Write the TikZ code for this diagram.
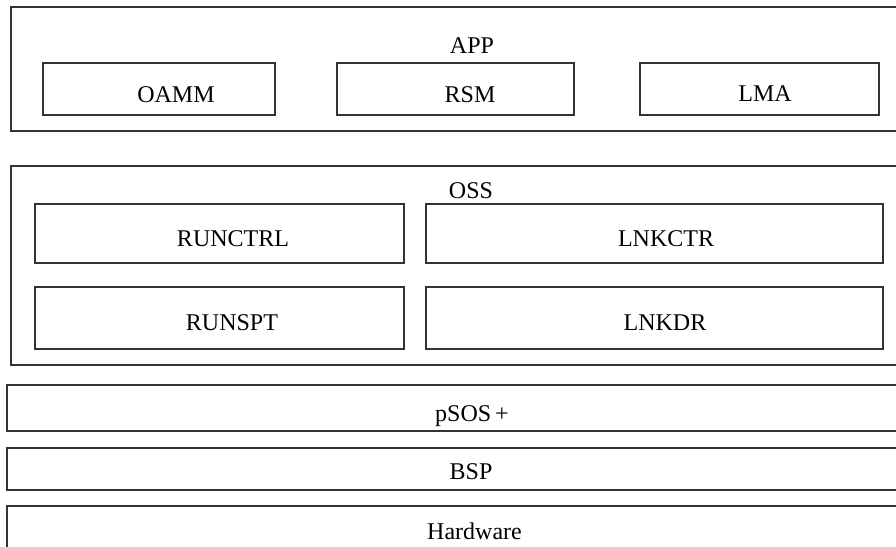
\documentclass[tikz,border=0pt]{standalone}
\usepackage{fontspec}
\setmainfont{Liberation Serif}
\begin{document}
\begin{tikzpicture}[x=1pt,y=-1pt,
  boxline/.style={draw=black!80, line width=1.2pt, inner sep=0pt, outer sep=0pt},
  lbl/.style={anchor=base, inner sep=0pt, font=\fontsize{24}{28}\selectfont}]
\useasboundingbox (0,0) rectangle (896,546);
\begin{scope}
\clip (0,0) rectangle (896,546);
% application layer
\node[boxline, minimum width=899, minimum height=124] (app) at (460.5,69) {};
\node[boxline, minimum width=232, minimum height=52] (oamm) at (159,89) {};
\node[boxline, minimum width=237, minimum height=52] (rsm) at (455.5,89) {};
\node[boxline, minimum width=239, minimum height=52] (lma) at (759.5,89) {};
% operating support layer
\node[boxline, minimum width=899, minimum height=199] (oss) at (460.5,265.5) {};
\node[boxline, minimum width=369, minimum height=59] (runctrl) at (219.5,233.5) {};
\node[boxline, minimum width=369, minimum height=62] (runspt) at (219.5,318) {};
\node[boxline, minimum width=457, minimum height=59] (lnkctr) at (654.5,233.5) {};
\node[boxline, minimum width=457, minimum height=62] (lnkdr) at (654.5,318) {};
% kernel, board support and hardware layers
\node[boxline, minimum width=903, minimum height=46] (psos) at (458.5,408) {};
\node[boxline, minimum width=903, minimum height=42] (bsp) at (458.5,469) {};
\node[boxline, minimum width=903, minimum height=64] (hw) at (458.5,538) {};
\end{scope}
% labels
\node[lbl] (tapp) at (472,53) {APP};
\node[lbl] (toamm) at (176,102) {OAMM};
\node[lbl] (trsm) at (470,102) {RSM};
\node[lbl] (tlma) at (765,101) {LMA};
\node[lbl] (toss) at (471,198) {OSS};
\node[lbl] (trunctrl) at (233,246) {RUNCTRL};
\node[lbl] (tlnkctr) at (666,246) {LNKCTR};
\node[lbl] (trunspt) at (232,330) {RUNSPT};
\node[lbl] (tlnkdr) at (665,330) {LNKDR};
\node[lbl] (tpsos) at (472,421.5) {pSOS\,+};
\node[lbl] (tbsp) at (471,479) {BSP};
\node[lbl] (thw) at (474.5,539.5) {Hardware};
\end{tikzpicture}
\end{document}
